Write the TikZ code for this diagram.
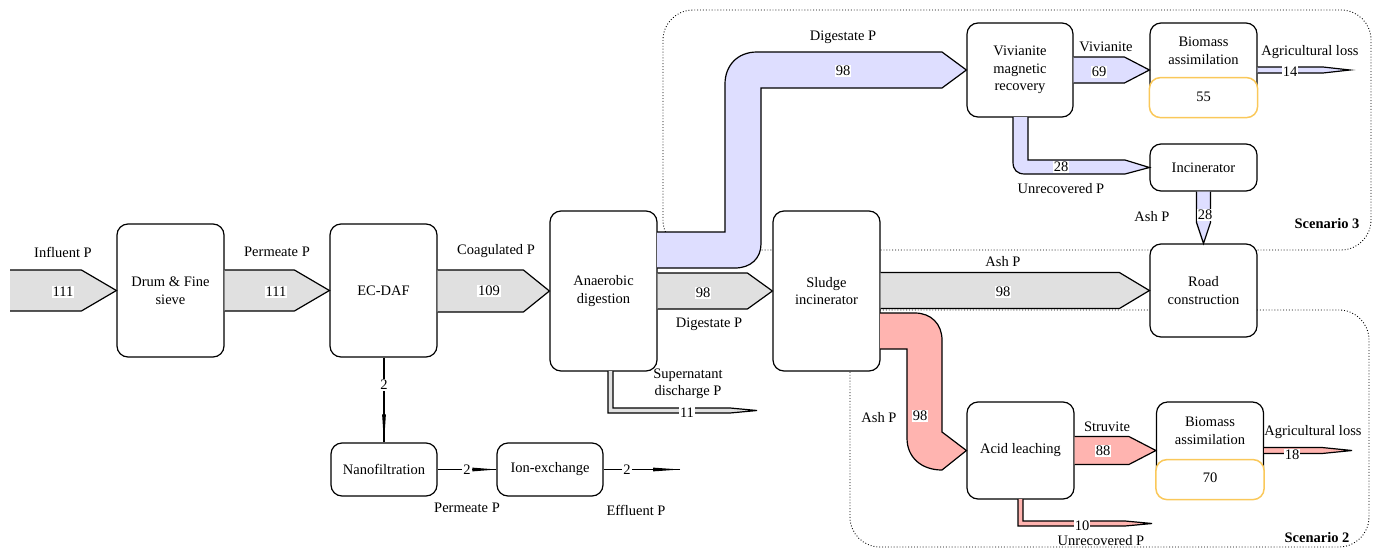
\documentclass[tikz,border=0pt]{standalone}
\usepackage{fontspec}
\setmainfont{Liberation Serif}
\usetikzlibrary{calc}
\definecolor{flowgray}{RGB}{224,224,224}
\definecolor{lav}{RGB}{222,222,255}
\definecolor{pinkf}{RGB}{255,180,176}
\definecolor{orangeb}{RGB}{250,200,90}
% horizontal block arrow: #1 start (x used), #2 tip, #3 half width, #4 head length, #5 fill
\newcommand\harrow[5]{%
  \fill[#5] ($(#1|-#2)+(0,-#3)$) -- ($(#2)+(-#4,-#3)$) -- (#2) -- ($(#2)+(-#4,#3)$) -- ($(#1|-#2)+(0,#3)$) -- cycle;
  \draw[flowline] ($(#1|-#2)+(0,-#3)$) -- ($(#2)+(-#4,-#3)$) -- (#2) -- ($(#2)+(-#4,#3)$) -- ($(#1|-#2)+(0,#3)$);}
% vertical block arrow (downwards)
\newcommand\varrow[5]{%
  \fill[#5] ($(#2|-#1)+(-#3,0)$) -- ($(#2)+(-#3,-#4)$) -- (#2) -- ($(#2)+(#3,-#4)$) -- ($(#2|-#1)+(#3,0)$) -- cycle;
  \draw[flowline] ($(#2|-#1)+(-#3,0)$) -- ($(#2)+(-#3,-#4)$) -- (#2) -- ($(#2)+(#3,-#4)$) -- ($(#2|-#1)+(#3,0)$);}
% thin horizontal arrow with spindle head: #1 start, #2 tip, #3 head length
\newcommand\thinh[3]{%
  \draw[line width=1.1pt] (#1|-#2) -- (#2);
  \fill ($(#2)+(-#3,-1.9)$) -- (#2) -- ($(#2)+(-#3,1.9)$) -- cycle;}
\newcommand\thinv[3]{%
  \draw[line width=1.1pt] (#2|-#1) -- (#2);
  \fill ($(#2)+(-1.9,-#3)$) -- (#2) -- ($(#2)+(1.9,-#3)$) -- cycle;}
\begin{document}
\begin{tikzpicture}[x=1pt,y=-1pt,
  every node/.style={font=\fontsize{14.5}{17.5}\selectfont, inner sep=0pt, align=center},
  box/.style={draw, line width=1.2pt, rounded corners=11pt, fill=white},
  flowline/.style={line width=1.2pt, line join=miter},
  num/.style={fill=white, inner sep=1pt},
  scen/.style={draw, dotted, line width=0.9pt, rounded corners=30pt}]
\useasboundingbox (0,0) rectangle (1376,549);

% scenario regions
\draw[scen] (663,10) rectangle (1371,250);
\draw[scen] (850,310) rectangle (1369,547);

% boxes
\node[box, minimum width=107pt, minimum height=133pt] (drum) at (170.5,290.5) {Drum \& Fine\\sieve};
\node[box, minimum width=107pt, minimum height=133pt] (ecdaf) at (383.5,290.5) {EC-DAF};
\node[box, minimum width=107pt, minimum height=160pt] (ad) at (603.5,291) {Anaerobic\\digestion};
\node[box, minimum width=107pt, minimum height=160pt] (sludge) at (826.5,291) {Sludge\\incinerator};
\node[box, minimum width=106pt, minimum height=94pt] (viv) at (1020,70) {Vivianite\\magnetic\\recovery};
\node[box, minimum width=107pt, minimum height=94pt] (bio1) at (1203.5,70) {};
\node[box, minimum width=107pt, minimum height=47pt] (incin) at (1203.5,167.5) {Incinerator};
\node[box, minimum width=107pt, minimum height=93pt] (road) at (1203.5,290.5) {Road\\construction};
\node[box, minimum width=107pt, minimum height=97pt] (acid) at (1020.5,450.5) {Acid leaching};
\node[box, minimum width=107pt, minimum height=97pt] (bio2) at (1210,450.5) {};
\node[box, minimum width=106pt, minimum height=53pt] (nano) at (384,469.5) {Nanofiltration};
\node[box, minimum width=106pt, minimum height=53pt] (ion) at (550,469.5) {Ion-exchange};

% biomass inner parts
\draw[orangeb, line width=1.5pt, rounded corners=11pt, fill=white] (bio1.south west) ++(0,-40) rectangle (bio1.south east);
\node (bio1t) at (1203.5,51) {Biomass\\assimilation};
\node (bio1v) at (1203.5,97) {55};
\draw[orangeb, line width=1.5pt, rounded corners=11pt, fill=white] (bio2.south west) ++(0,-40) rectangle (bio2.south east);
\node (bio2t) at (1210,431) {Biomass\\assimilation};
\node (bio2v) at (1210,478) {70};

% free end coordinates
\coordinate (inA) at (10,290.5);
\coordinate (agr1) at (1350,70);
\coordinate (agr2) at (1352,450.5);
\coordinate (effout) at (680,469.5);

% main gray flows
\harrow{inA}{drum.west}{20.5}{35}{flowgray}
\harrow{drum.east}{ecdaf.west}{20.5}{35}{flowgray}
\harrow{ecdaf.east}{ad.west}{21}{26}{flowgray}
\harrow{ad.east}{sludge.west}{18}{25}{flowgray}
\harrow{sludge.east}{road.west}{18}{30}{flowgray}

% lavender digestate band (scenario 3)
\fill[lav] (657,232) -- (725,232) -- (725,84) .. controls (725,66) and (737,52) .. (757,52) -- (942,52) -- (viv.west) -- (942,88) -- (761,88) -- (761,244) .. controls (761,258) and (751,268) .. (735,268) -- (657,268) -- cycle;
\draw[flowline] (657,232) -- (725,232) -- (725,84) .. controls (725,66) and (737,52) .. (757,52) -- (942,52) -- (viv.west) -- (942,88) -- (761,88) -- (761,244) .. controls (761,258) and (751,268) .. (735,268) -- (657,268);

\harrow{viv.east}{bio1.west}{13}{25}{lav}
\harrow{bio1.east}{agr1}{3}{27}{lav}
% unrecovered 28
\fill[lav] (1013,117) -- (1013,162) .. controls (1013,170) and (1017,174) .. (1025,174) -- (1125,174) -- (incin.west) -- (1125,160) -- (1028,160) -- (1028,117) -- cycle;
\draw[flowline] (1013,117) -- (1013,162) .. controls (1013,170) and (1017,174) .. (1025,174) -- (1125,174) -- (incin.west) -- (1125,160) -- (1028,160) -- (1028,117);
\varrow{incin.south}{road.north}{7}{21}{lav}

% pink ash band (scenario 2)
\fill[pinkf] (880,313) -- (915,313) .. controls (931,313) and (942,324) .. (942,340) -- (942,432) -- (acid.west) -- (942,470) .. controls (922,470) and (907,458) .. (907,438) -- (907,349) -- (880,349) -- cycle;
\draw[flowline] (880,313) -- (915,313) .. controls (931,313) and (942,324) .. (942,340) -- (942,432) -- (acid.west) -- (942,470) .. controls (922,470) and (907,458) .. (907,438) -- (907,349) -- (880,349);
\harrow{acid.east}{bio2.west}{14}{27}{pinkf}
\harrow{bio2.east}{agr2}{3}{30}{pinkf}
% unrecovered 10
\fill[pinkf] (1018,499) -- (1018,526) -- (1125,526) -- (1152,523.5) -- (1125,521) -- (1023,521) -- (1023,499) -- cycle;
\draw[flowline] (1018,499) -- (1018,526) -- (1125,526) -- (1152,523.5) -- (1125,521) -- (1023,521) -- (1023,499);

% supernatant
\fill[flowgray] (608,371) -- (608,413) -- (730,413) -- (757,410.5) -- (730,408) -- (613,408) -- (613,371) -- cycle;
\draw[flowline] (608,371) -- (608,413) -- (730,413) -- (757,410.5) -- (730,408) -- (613,408) -- (613,371);

% thin 2 flows
\thinv{ecdaf.south}{nano.north}{28}
\thinh{nano.east}{ion.west}{24}
\thinh{ion.east}{effout}{27}

% numbers on flows
\node[num] (n1) at (63,292) {111};
\node[num] (n2) at (276,292) {111};
\node[num] (n3) at (489,291) {109};
\node[num] (n4) at (703,293) {98};
\node[num] (n5) at (1003,292) {98};
\node[num] (n6) at (843,71) {98};
\node[num] (n7) at (1099,72) {69};
\node[num] (n8) at (1290,72) {14};
\node[num] (n9) at (1061,167) {28};
\node[num] (n10) at (1205,215) {28};
\node[num] (n11) at (920,416) {98};
\node[num] (n12) at (1103,451) {88};
\node[num] (n13) at (1292,455) {18};
\node[num] (n14) at (1082,526) {10};
\node[num] (n15) at (687,413) {11};
\node[num] (n16) at (384,385) {2};
\node[num] (n17) at (467,469.5) {2};
\node[num] (n18) at (627,469.5) {2};

% text labels
\node (t1) at (63,252) {Influent P};
\node (t2) at (277,252) {Permeate P};
\node (t3) at (496,251) {Coagulated P};
\node (t4) at (709,324) {Digestate P};
\node (t5) at (688,384) {Supernatant\\discharge P};
\node (t6) at (843,37) {Digestate P};
\node (t7) at (1106,47) {Vivianite};
\node (t8) at (1310,52) {Agricultural loss};
\node (t9) at (1061,189) {Unrecovered P};
\node (t10) at (1152,217) {Ash P};
\node (t11) at (1003,262) {Ash P};
\node (t12) at (879,418) {Ash P};
\node (t13) at (1107,427) {Struvite};
\node (t14) at (1313,432) {Agricultural loss};
\node (t15) at (1101,541) {Unrecovered P};
\node (t16) at (467,508) {Permeate P};
\node (t17) at (636,510) {Effluent P};
\node[font=\fontsize{14.5}{17.5}\selectfont\bfseries] (s3) at (1327,224) {Scenario 3};
\node[font=\fontsize{14.5}{17.5}\selectfont\bfseries] (s2) at (1317,538) {Scenario 2};
\end{tikzpicture}
\end{document}
